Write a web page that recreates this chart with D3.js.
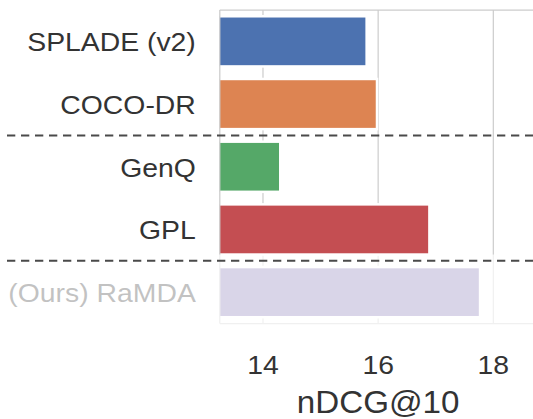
<!DOCTYPE html>
<html>
<head>
<meta charset="utf-8">
<script src="https://cdn.jsdelivr.net/npm/d3@7/dist/d3.min.js"></script>
<style>
  html, body { margin: 0; padding: 0; background: #fff; }
  svg { display: block; }
  text { font-family: "Liberation Sans", Arial, sans-serif; fill: #333333; }
</style>
</head>
<body>
<svg id="chart" width="533" height="419"></svg>
<script>
// Retrieval methods, nDCG@10
const categories = ["SPLADE (v2)", "COCO-DR", "GenQ", "GPL", "(Ours) RaMDA"];
const ndcgValues = [15.80, 15.98, 14.30, 16.89, 17.77];
const barColors = ["#4C72B0", "#DD8452", "#55A868", "#C44E52", "#8172B3"];
const xTicks = [14, 16, 18];
const xDomain = [13.25, 18.75];
// a dashed separator is drawn above each of these rows
const groupStarts = ["GenQ", "(Ours) RaMDA"];
// this row is drawn washed out
const fadedRow = "(Ours) RaMDA";

const W = 533, H = 419;
const plot = { left: 219.8, right: 536.5, top: 10, bottom: 323.5 };
const textStretch = 1.07;

const svg = d3.select("#chart");

const x = d3.scaleLinear().domain(xDomain).range([plot.left, plot.right]);
const y = d3.scaleBand().domain(categories)
  .range([plot.top, plot.bottom])
  .paddingInner(0.2).paddingOuter(0.1);

const rows = categories.map((c, i) => ({ name: c, value: ndcgValues[i], color: barColors[i] }));

svg.append("clipPath").attr("id", "plotClip")
  .append("rect")
  .attr("x", plot.left).attr("y", plot.top)
  .attr("width", plot.right - plot.left).attr("height", plot.bottom - plot.top);

// vertical grid
svg.append("g")
  .selectAll("line").data(xTicks).join("line")
  .attr("x1", d => x(d)).attr("x2", d => x(d))
  .attr("y1", plot.top).attr("y2", plot.bottom)
  .attr("stroke", "#cccccc").attr("stroke-width", 1.2);

// bars (white edges, clipped to the axes)
svg.append("g").attr("clip-path", "url(#plotClip)")
  .selectAll("rect").data(rows).join("rect")
  .attr("x", x(xDomain[0]) - 2)
  .attr("y", d => y(d.name))
  .attr("width", d => x(d.value) - x(xDomain[0]) + 2)
  .attr("height", y.bandwidth())
  .attr("fill", d => d.color)
  .attr("stroke", "#ffffff").attr("stroke-width", 2.5);

// axes frame
svg.append("g").selectAll("line")
  .data([
    [plot.left, plot.top, plot.right, plot.top],
    [plot.left, plot.bottom, plot.right, plot.bottom],
    [plot.left, plot.top, plot.left, plot.bottom]
  ]).join("line")
  .attr("x1", d => d[0]).attr("y1", d => d[1])
  .attr("x2", d => d[2]).attr("y2", d => d[3])
  .attr("stroke", "#cccccc").attr("stroke-width", 1.25);

function place(sel, px, py) {
  return sel.attr("transform", `translate(${px},${py}) scale(${textStretch},1)`);
}

// category labels
svg.append("g").selectAll("text").data(rows).join("text")
  .attr("text-anchor", "end")
  .attr("font-size", 26.5)
  .text(d => d.name)
  .each(function (d) {
    place(d3.select(this), plot.left - 24, y(d.name) + y.bandwidth() / 2 + 10);
  });

// wash over the highlighted row
const fadeTop = y(categories[categories.indexOf(fadedRow) - 1]) + y.bandwidth();
svg.append("rect")
  .attr("x", 0).attr("y", fadeTop)
  .attr("width", W).attr("height", plot.bottom + 3 - fadeTop)
  .attr("fill", "#ffffff").attr("fill-opacity", 0.7);

// group separators
svg.append("g").selectAll("line").data(groupStarts).join("line")
  .attr("x1", 7).attr("x2", W + 10)
  .attr("y1", d => y(d) - y.step() * y.paddingInner() / 2)
  .attr("y2", d => y(d) - y.step() * y.paddingInner() / 2)
  .attr("stroke", "#4a4a4a").attr("stroke-width", 2)
  .attr("stroke-dasharray", "8.3,5.7");

// x tick labels
svg.append("g").selectAll("text").data(xTicks).join("text")
  .attr("text-anchor", "middle")
  .attr("font-size", 26.5)
  .text(d => d)
  .each(function (d) { place(d3.select(this), x(d), plot.bottom + 50); });

// x axis title
place(svg.append("text")
  .attr("text-anchor", "middle")
  .attr("font-size", 31)
  .text("nDCG@10"), (plot.left + plot.right) / 2, 412.5);
</script>
</body>
</html>
